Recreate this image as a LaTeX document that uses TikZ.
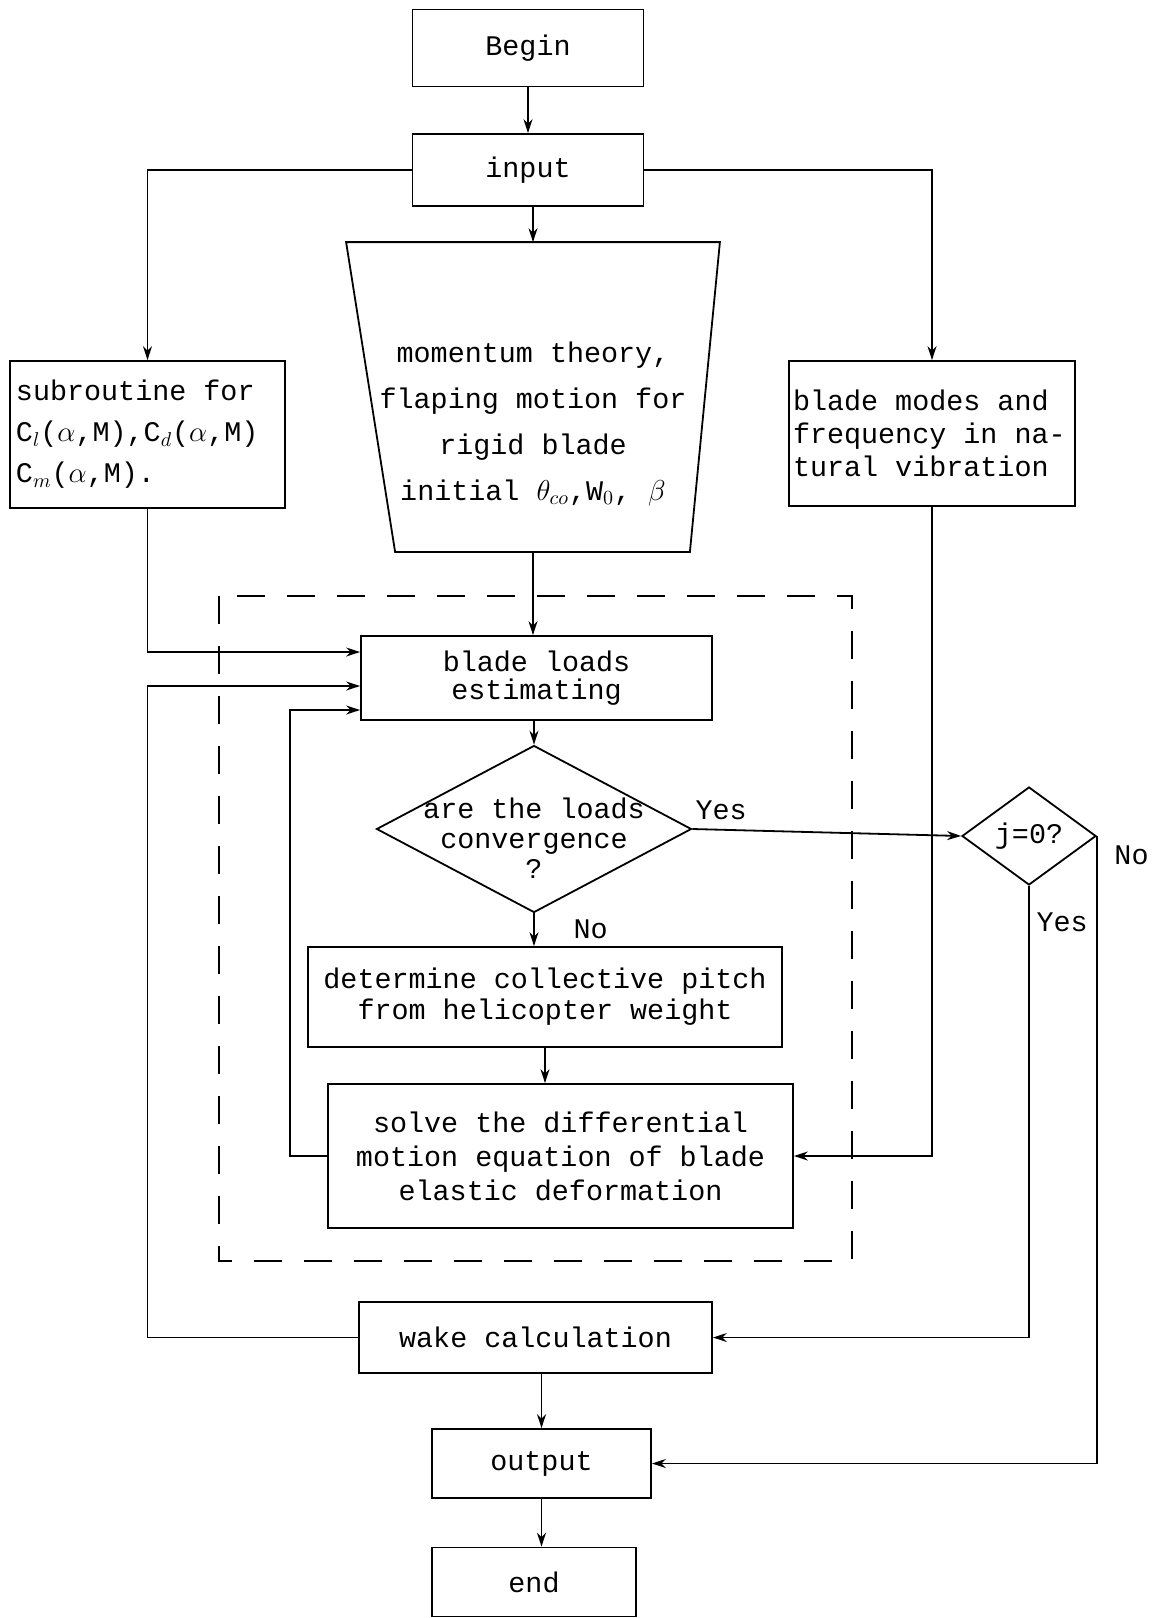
\documentclass[tikz,border=0pt]{standalone}
\usepackage{fontspec}
\setmainfont{Liberation Mono}[WordSpace={1,0,0}]
\usetikzlibrary{positioning, arrows.meta, shapes.geometric, calc}

\begin{document}
\begin{tikzpicture}[x=0.5pt, y=-0.5pt, line width=0.9pt,
  every node/.style={font=\fontsize{14.2}{17}\selectfont, align=center},
  box/.style={draw, line width=0.9pt, inner sep=2pt},
  leftbox/.style={box, align=left, execute at begin node={\spaceskip=0pt\xspaceskip=0pt}},
  flow/.style={-{Stealth[length=7pt, width=4.5pt]}, line width=0.9pt}]
\useasboundingbox (0,0) rectangle (1165,1618);

% main column
\node[box, minimum width=115.5pt, minimum height=38.5pt] (start) at (528,48) {Begin};
\node[box, minimum width=115.5pt, minimum height=36pt] (input) at (528,170) {input};

\node[leftbox, minimum width=137.5pt, minimum height=73.5pt, text width=131.5pt,
      font=\fontsize{14.2}{20.5}\selectfont] (subr) at (147.5,434.5)
      {subroutine for\\C$_l$($\alpha$,M),C$_d$($\alpha$,M)\\C$_m$($\alpha$,M).};

\node[minimum width=186pt, minimum height=154pt, inner sep=0pt] (mom) at (533,397) {};
\draw (mom.north west) -- (mom.north east) -- ([xshift=-15pt]mom.south east)
      -- ([xshift=24.5pt]mom.south west) -- cycle;
\node[font=\fontsize{14.2}{23}\selectfont] (momtxt) at (533,424)
      {momentum theory,\\flaping motion for\\rigid blade\\initial $\theta_{co}$,W$_0$, $\beta$};

\node[leftbox, minimum width=143pt, minimum height=72.5pt, text width=139pt,
      font=\fontsize{14.2}{16.5}\selectfont] (modes) at (932,433.5)
      {blade modes and\\frequency in na-\\tural vibration};

% iteration frame
\draw[dash pattern=on 14pt off 11pt] (219,596) rectangle (852,1261);

\node[box, minimum width=175.5pt, minimum height=42pt,
      font=\fontsize{14.2}{14}\selectfont] (loads) at (536.5,678) {blade loads\\estimating};

\node[draw, diamond, minimum width=157.5pt, minimum height=83.5pt, inner sep=0pt] (conv) at (534,829) {};
\node[font=\fontsize{14.2}{15}\selectfont] (convtxt) at (534,838) {are the loads\\convergence\\?};

\node[box, minimum width=237pt, minimum height=50pt,
      font=\fontsize{14.2}{15.5}\selectfont] (pitch) at (545,997)
      {determine collective pitch\\from helicopter weight};

\node[box, minimum width=232.5pt, minimum height=72pt] (solve) at (560.5,1156)
      {solve the differential\\motion equation of blade\\elastic deformation};

\node[draw, diamond, minimum width=67pt, minimum height=49pt, inner sep=0pt] (jdec) at (1029,836) {};
\node (jtxt) at (1029,836) {j=0?};

\node[box, minimum width=176.5pt, minimum height=35.5pt] (wake) at (535.5,1337.5) {wake calculation};
\node[box, minimum width=109.5pt, minimum height=34.5pt] (output) at (541.5,1463.5) {output};
\node[box, minimum width=102pt, minimum height=34.5pt] (stop) at (534,1582) {end};

\coordinate (inA) at ([yshift=13pt]loads.west);
\coordinate (inB) at ([yshift=-4pt]loads.west);
\coordinate (inC) at ([yshift=-16pt]loads.west);

% connectors
\draw[flow] (start) -- (input);
\draw[flow] (input.south -| mom.north) -- (mom.north);
\draw[flow] (input.west) -| (subr.north);
\draw[flow] (input.east) -| (modes.north);
\draw[flow] (subr.south) |- (inA);
\draw[flow] (wake.west) -| (subr.south |- inB) -- (inB);
\draw[flow] (solve.west) -- ++(-37,0) |- (inC);
\draw[flow] (mom.south) -- (mom.south |- loads.north);
\draw[flow] (loads.south -| conv.north) -- (conv.north);
\draw[flow] (conv.south) -- (conv.south |- pitch.north) node[midway, right=16pt] {No};
\draw[flow] (pitch.south) -- (pitch.south |- solve.north);
\draw[flow] (conv.east) -- (jdec.west) node[pos=0.107, above=1pt] {Yes};
\draw[flow] (modes.south) |- (solve.east);
\draw[flow] (jdec.south) |- (wake.east) node[pos=0.04, right=0pt] {Yes};
\draw[flow] (jdec.east) |- (output.east) node[pos=0.015, right=5pt] {No};
\draw[flow] (output.north |- wake.south) -- (output.north);
\draw[flow] (output.south) -- (output.south |- stop.north);
\end{tikzpicture}
\end{document}
